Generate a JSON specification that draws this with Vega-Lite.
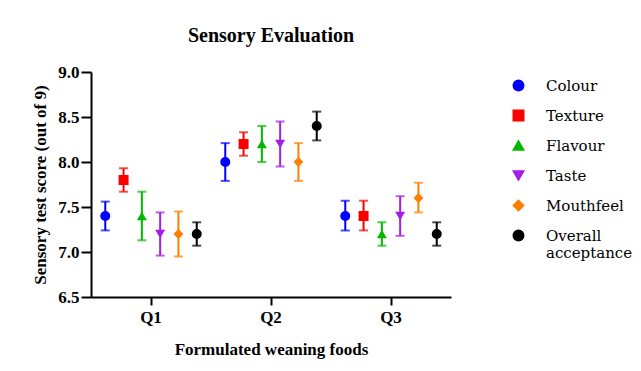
{
  "$schema": "https://vega.github.io/schema/vega-lite/v6.json",
  "width": 360,
  "height": 225,
  "autosize": {"type": "none"},
  "padding": {"left": 91, "top": 72, "right": 190, "bottom": 74},
  "background": "white",
  "title": {"text": "Sensory Evaluation", "font": "Liberation Serif", "fontSize": 20, "fontWeight": "bold", "anchor": "middle", "offset": 17, "color": "black"},
  "config": {
    "view": {"stroke": null},
    "axis": {"labelFont": "Liberation Serif", "titleFont": "Liberation Serif", "labelFontWeight": "bold", "titleFontWeight": "bold", "labelFontSize": 17, "titleFontSize": 17, "labelColor": "black", "titleColor": "black", "domainColor": "black", "tickColor": "black", "domainWidth": 2, "tickWidth": 2, "grid": false},
    "legend": {"labelFont": "DejaVu Serif", "labelFontSize": 15, "labelColor": "black", "symbolSize": 110, "symbolOpacity": 1, "rowPadding": 13, "labelOffset": 20}
  },
  "data": {
    "values": [
      {"group": "Q1", "attr": "Colour", "mean": 7.4, "lo": 7.24, "hi": 7.56},
      {"group": "Q1", "attr": "Texture", "mean": 7.8, "lo": 7.67, "hi": 7.93},
      {"group": "Q1", "attr": "Flavour", "mean": 7.4, "lo": 7.13, "hi": 7.67},
      {"group": "Q1", "attr": "Taste", "mean": 7.2, "lo": 6.96, "hi": 7.44},
      {"group": "Q1", "attr": "Mouthfeel", "mean": 7.2, "lo": 6.95, "hi": 7.45},
      {"group": "Q1", "attr": "Overall acceptance", "mean": 7.2, "lo": 7.07, "hi": 7.33},
      {"group": "Q2", "attr": "Colour", "mean": 8.0, "lo": 7.79, "hi": 8.21},
      {"group": "Q2", "attr": "Texture", "mean": 8.2, "lo": 8.07, "hi": 8.33},
      {"group": "Q2", "attr": "Flavour", "mean": 8.2, "lo": 8.0, "hi": 8.4},
      {"group": "Q2", "attr": "Taste", "mean": 8.2, "lo": 7.95, "hi": 8.45},
      {"group": "Q2", "attr": "Mouthfeel", "mean": 8.0, "lo": 7.79, "hi": 8.21},
      {"group": "Q2", "attr": "Overall acceptance", "mean": 8.4, "lo": 8.24, "hi": 8.56},
      {"group": "Q3", "attr": "Colour", "mean": 7.4, "lo": 7.24, "hi": 7.57},
      {"group": "Q3", "attr": "Texture", "mean": 7.4, "lo": 7.24, "hi": 7.57},
      {"group": "Q3", "attr": "Flavour", "mean": 7.2, "lo": 7.07, "hi": 7.33},
      {"group": "Q3", "attr": "Taste", "mean": 7.4, "lo": 7.18, "hi": 7.62},
      {"group": "Q3", "attr": "Mouthfeel", "mean": 7.6, "lo": 7.44, "hi": 7.77},
      {"group": "Q3", "attr": "Overall acceptance", "mean": 7.2, "lo": 7.07, "hi": 7.33}
    ]
  },
  "encoding": {
    "x": {"field": "group", "type": "nominal", "scale": {"paddingInner": 0, "paddingOuter": 0}, "axis": {"title": "Formulated weaning foods", "labelAngle": 0, "tickSize": 8, "labelPadding": 4, "titlePadding": 16}},
    "xOffset": {"field": "attr", "type": "nominal", "sort": ["Colour", "Texture", "Flavour", "Taste", "Mouthfeel", "Overall acceptance"], "scale": {"paddingOuter": 0.28, "paddingInner": 0}},
    "color": {"field": "attr", "type": "nominal", "sort": ["Colour", "Texture", "Flavour", "Taste", "Mouthfeel", "Overall acceptance"], "scale": {"domain": ["Colour", "Texture", "Flavour", "Taste", "Mouthfeel", "Overall acceptance"], "range": ["#0000ff", "#ff0000", "#00b800", "#a41ee8", "#ff8000", "#000000"]}, "legend": {"title": null, "orient": "none", "legendX": 420, "legendY": 6, "labelExpr": "datum.label == 'Overall acceptance' ? ['Overall', 'acceptance'] : datum.label"}}
  },
  "layer": [
    {
      "mark": {"type": "rule", "strokeWidth": 2},
      "encoding": {
        "y": {"field": "lo", "type": "quantitative"},
        "y2": {"field": "hi"}
      }
    },
    {
      "mark": {"type": "tick", "size": 9, "thickness": 2},
      "encoding": {"y": {"field": "lo", "type": "quantitative"}}
    },
    {
      "mark": {"type": "tick", "size": 9, "thickness": 2},
      "encoding": {"y": {"field": "hi", "type": "quantitative"}}
    },
    {
      "mark": {"type": "point", "filled": true, "opacity": 1, "size": 100},
      "encoding": {
        "y": {"field": "mean", "type": "quantitative", "scale": {"domain": [6.5, 9.0], "nice": false, "zero": false}, "axis": {"title": "Sensory test score (out of 9)", "values": [6.5, 7.0, 7.5, 8.0, 8.5, 9.0], "format": ".1f", "tickSize": 10, "labelPadding": 2, "titlePadding": 8}},
        "shape": {"field": "attr", "type": "nominal", "sort": ["Colour", "Texture", "Flavour", "Taste", "Mouthfeel", "Overall acceptance"], "scale": {"domain": ["Colour", "Texture", "Flavour", "Taste", "Mouthfeel", "Overall acceptance"], "range": ["circle", "square", "triangle-up", "triangle-down", "diamond", "circle"]}, "legend": {"title": null, "orient": "none", "legendX": 420, "legendY": 6, "labelExpr": "datum.label == 'Overall acceptance' ? ['Overall', 'acceptance'] : datum.label"}}
      }
    }
  ]
}
